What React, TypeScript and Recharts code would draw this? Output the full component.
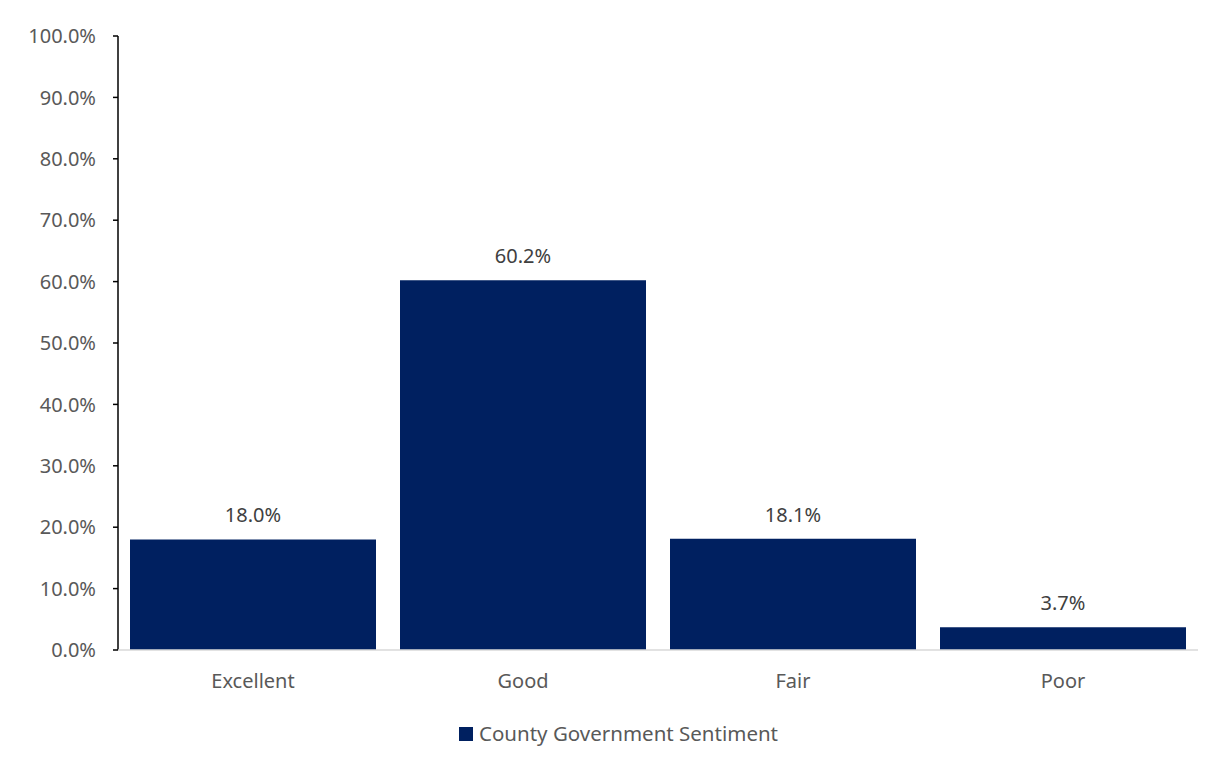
import { Bar, BarChart, Customized, LabelList, XAxis, YAxis } from "recharts";

const categories = ["Excellent", "Good", "Fair", "Poor"];
const sentiment = [18.0, 60.2, 18.1, 3.7];
const yTicks = [0, 10, 20, 30, 40, 50, 60, 70, 80, 90, 100];

const data = categories.map((c, i) => ({ category: c, value: sentiment[i] }));

const font = "'Noto Sans', sans-serif";
const navy = "#002060";
const frame = "#8e8e8e";

function Frame() {
  return (
    <rect x={7} y={7} width={1240} height={800} fill="none" stroke={frame} strokeWidth={2} />
  );
}

function Legend() {
  return (
    <g>
      <rect x={459} y={727} width={14} height={14} fill={navy} />
      <text x={479} y={741} fontSize={20.5} fill="#595959" fontFamily={font}>
        County Government Sentiment
      </text>
    </g>
  );
}

export default function App() {
  return (
    <div style={{ margin: -8, width: 1218, height: 767, background: "#fff", fontFamily: font }}>
      <BarChart
        width={1218}
        height={767}
        data={data}
        margin={{ top: 36, right: 20, bottom: 67, left: 0 }}
        barCategoryGap={12}
      >
        <YAxis
          width={118}
          domain={[0, 100]}
          ticks={yTicks}
          interval={0}
          tickFormatter={(v: number) => `${v.toFixed(1)}%`}
          tick={{ fontSize: 20, fill: "#595959", fontFamily: font }}
          axisLine={{ stroke: "#000", strokeWidth: 1.5 }}
          tickLine={{ stroke: "#000", strokeWidth: 1.5 }}
          tickSize={5}
          tickMargin={17}
        />
        <XAxis
          dataKey="category"
          height={50}
          tick={{ fontSize: 20, fill: "#595959", fontFamily: font }}
          axisLine={{ stroke: "#d9d9d9", strokeWidth: 1.5 }}
          tickLine={false}
          tickSize={0}
          tickMargin={24}
        />
        <Bar dataKey="value" fill={navy} isAnimationActive={false}>
          <LabelList
            dataKey="value"
            position="top"
            offset={17}
            formatter={(v: number) => `${v.toFixed(1)}%`}
            style={{ fontSize: 20, fill: "#404040", fontFamily: font }}
          />
        </Bar>
        <Customized component={Legend} />
        <Customized component={Frame} />
      </BarChart>
    </div>
  );
}
